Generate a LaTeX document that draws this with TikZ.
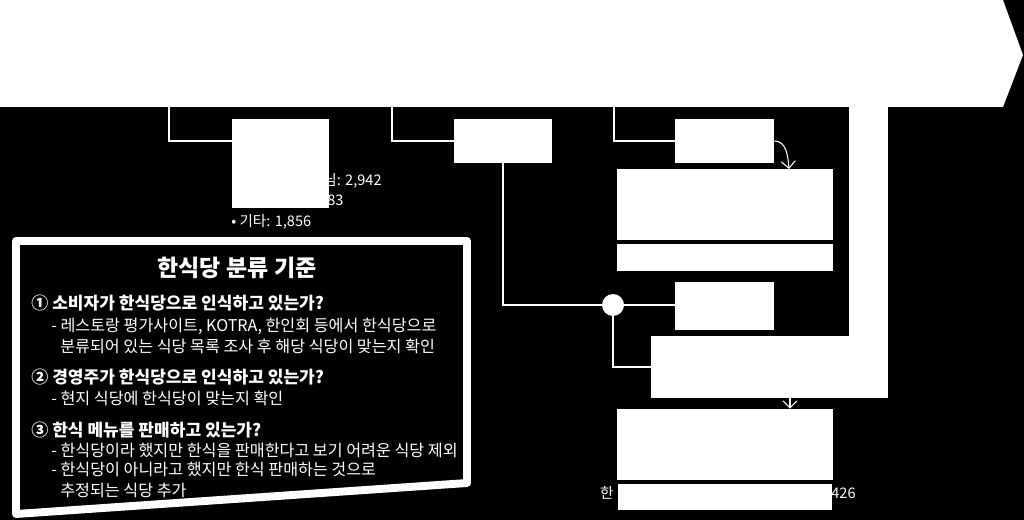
\documentclass[tikz,border=0pt]{standalone}
\usepackage{fontspec}
\setmainfont{Noto Sans CJK KR}
\usetikzlibrary{positioning,arrows.meta}

\begin{document}
\begin{tikzpicture}[
    x=0.02cm, y=-0.02cm,
    box/.style={fill=white, inner sep=0pt},
    link/.style={draw=white, line width=1.1pt},
    curvearrow/.style={draw=white, line width=0.6pt, -{Straight Barb[length=4pt,width=8pt]}},
    crit/.style={text=white, inner sep=0pt, anchor=west, font=\fontsize{9.2pt}{10pt}\selectfont},
    head/.style={crit, font=\fontsize{9.7pt}{11pt}\selectfont\bfseries},
    note/.style={text=white, inner sep=0pt, font=\fontsize{8.3pt}{9pt}\selectfont}
]

% Background
\fill[black] (0,0) rectangle (1024,520);

% Notes under the boxes
\node[note, anchor=west] (n1) at (323,181) {님: 2,942};
\node[note, anchor=west] (n2) at (327,200) {83};
\node[note, anchor=west] (n3) at (231,222) {• 기타: 1,856};
\node[note, anchor=east] (n4) at (614,493) {한};
\node[note, anchor=west] (n5) at (831,493) {426};

% Banner
\fill[white] (0,0) -- (1003,0) -- (1023,55) -- (1003,107) -- (0,107) -- cycle;
\fill[white] (849,100) rectangle (888,340);
\coordinate (t1) at (169,107);
\coordinate (t2) at (392,107);
\coordinate (t3) at (614,107);

% First row
\node[box, minimum width=1.94cm, minimum height=1.78cm] (A) at (280.5,163.5) {};
\node[box, minimum width=1.96cm, minimum height=0.88cm] (B) at (503,141) {};
\node[box, minimum width=1.98cm, minimum height=0.88cm] (C) at (724.5,141) {};

% Right column
\node[box, minimum width=4.32cm, minimum height=1.42cm] (F) at (725,204.5) {};
\node[box, minimum width=4.32cm, minimum height=0.54cm, below=0.06cm of F] (G) {};
\node[box, minimum width=1.98cm, minimum height=0.96cm] (D) at (724.5,306) {};
\node[box, minimum width=4.74cm, minimum height=1.24cm] (E) at (769.5,367) {};
\node[box, minimum width=4.32cm, minimum height=1.42cm] (H) at (725,444.5) {};
\node[box, minimum width=4.30cm, minimum height=0.52cm, below=0.06cm of H] (I) {};

% Junction
\node[box, circle, minimum size=0.44cm] (J) at (613,305) {};

% Connections
\draw[link] (t1) |- (A.west |- B.west);
\draw[link] (t2) |- (B.west);
\draw[link] (t3) |- (C.west);
\draw[link] (B.south) |- (J.west);
\draw[link] (J.east) -- (D.west |- J.east);
\draw[link] (J.south) |- (E.west);

% Curved arrows
\coordinate (f1) at (789,169);
\coordinate (e1) at (790,396);
\draw[curvearrow] (C.east) to[out=0, in=95] (f1);
\draw[curvearrow] (e1) -- (e1 |- H.north);

% Criteria box
\draw[white, line width=4.5pt, line join=round, fill=black]
    (16,241) -- (467,241) -- (467,483) -- (16,514) -- cycle;
\node[text=white, inner sep=0pt, font=\fontsize{13.1pt}{15pt}\selectfont\bfseries] (title) at (237,268) {한식당 분류 기준};
\node[head] (q1) at (31,303) {① 소비자가 한식당으로 인식하고 있는가?};
\node[crit] (q1a) at (51,326) {- 레스토랑 평가사이트, KOTRA, 한인회 등에서 한식당으로};
\node[crit] (q1b) at (60,346) {분류되어 있는 식당 목록 조사 후 해당 식당이 맞는지 확인};
\node[head] (q2) at (31,377) {② 경영주가 한식당으로 인식하고 있는가?};
\node[crit] (q2a) at (51,398) {- 현지 식당에 한식당이 맞는지 확인};
\node[head] (q3) at (31,430) {③ 한식 메뉴를 판매하고 있는가?};
\node[crit] (q3a) at (51,450) {- 한식당이라 했지만 한식을 판매한다고 보기 어려운 식당 제외};
\node[crit] (q3b) at (51,469) {- 한식당이 아니라고 했지만 한식 판매하는 것으로};
\node[crit] (q3c) at (60,490) {추정되는 식당 추가};

\end{tikzpicture}
\end{document}
